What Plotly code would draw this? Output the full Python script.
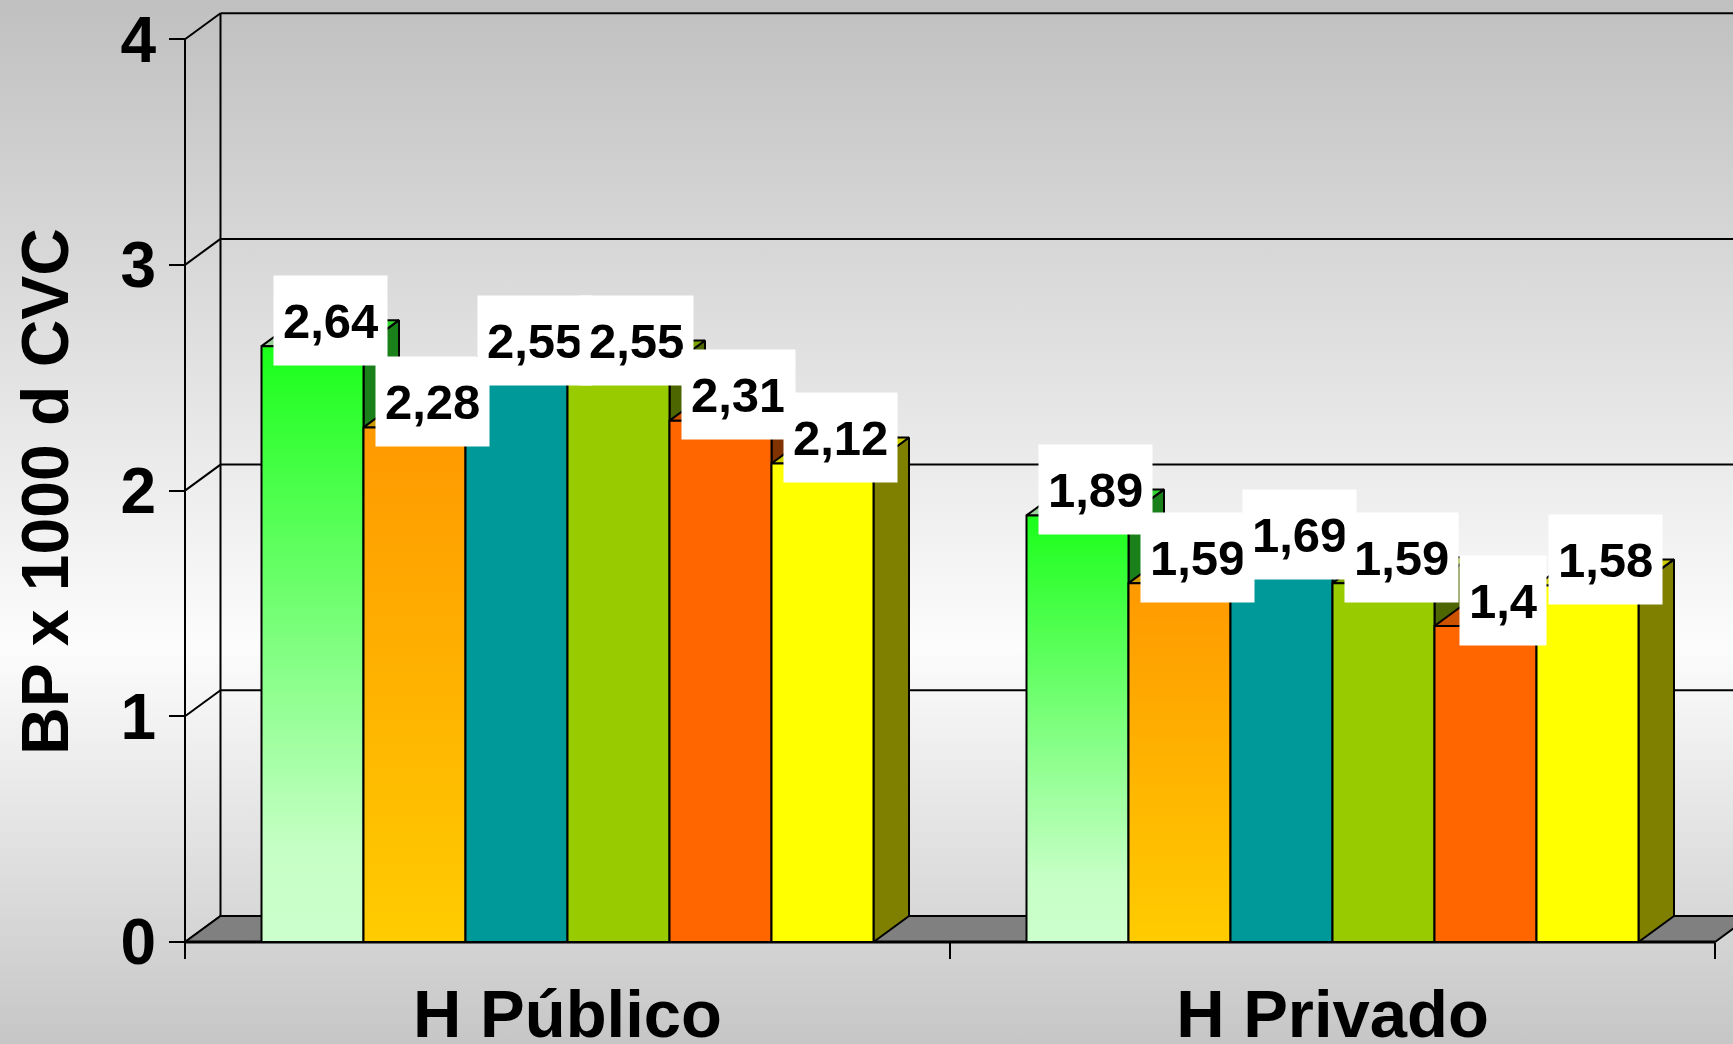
import base64
import plotly.graph_objects as go

# ---------------- data ----------------
categories = ["H Público", "H Privado"]
serie_1 = [2.64, 1.89]
serie_2 = [2.28, 1.59]
serie_3 = [2.55, 1.69]
serie_4 = [2.55, 1.59]
serie_5 = [2.31, 1.4]
serie_6 = [2.12, 1.58]
y_tick_values = [0, 1, 2, 3, 4]
y_tick_labels = ["0", "1", "2", "3", "4"]
y_title = "BP x 1000 d CVC"

series = [serie_1, serie_2, serie_3, serie_4, serie_5, serie_6]

# ---------------- styles ----------------
FONT = "Liberation Sans, Arial, sans-serif"
styles = [
    dict(front=[[0, "#ccffcc"], [0.15, "#c6ffc6"], [1, "#1aff1a"]],
         top=[[0, "#a3d1a3"], [1, "#2bd42b"]], side="#1a801a"),
    dict(front=[[0, "#ffcc00"], [1, "#ff9900"]], top="#cc9900", side="#996600"),
    dict(front="#009999", top="#007a7a", side="#006666"),
    dict(front="#99cc00", top="#7aa300", side="#4d6600"),
    dict(front="#ff6600", top="#cc5200", side="#803300"),
    dict(front="#ffff00", top="#cccc00", side="#808000"),
]

BAR_W = 1.0          # bar width (x units)
GAP = 0.75           # half of the 150% gap width
CAT_W = 7.5          # category width
PX_X = 102.0         # pixels per x unit
PX_Y = 225.7         # pixels per y unit
DX = 35.5 / PX_X     # 3D depth offset
DY = 26.0 / PX_Y

ML, MB = 180, 97
W, H = 1733, 1044
PW, PH = W - ML, H - MB
XMIN = -(185 - ML) / PX_X
XMAX = XMIN + PW / PX_X
YMIN = -5 / PX_Y
YMAX = YMIN + PH / PX_Y

fig = go.Figure()


def poly(xs, ys, fill=None, grad=None, lw=2, close=True):
    if close:
        xs = xs + [xs[0]]
        ys = ys + [ys[0]]
    kw = dict(x=xs, y=ys, mode="lines", line=dict(color="black", width=lw),
              hoverinfo="skip", showlegend=False)
    if fill is not None or grad is not None:
        kw["fill"] = "toself"
    if fill is not None:
        kw["fillcolor"] = fill
    if grad is not None:
        kw["fillgradient"] = grad
        kw["fillcolor"] = "rgba(0,0,0,0)"
    fig.add_trace(go.Scatter(**kw))


# back wall grid lines + left wall
for k in y_tick_values:
    poly([DX, XMAX + 1], [k + DY, k + DY], close=False)
    poly([0, DX], [k, k + DY], close=False)
poly([DX, DX], [DY, max(y_tick_values) + DY], close=False)
poly([0, 0], [0, max(y_tick_values)], close=False)

# floor
n_cat = len(categories)
poly([0, n_cat * CAT_W, n_cat * CAT_W + DX, DX], [0, 0, DY, DY], fill="#808080")
poly([0, n_cat * CAT_W], [0, 0], lw=3, close=False)

# bars
annotations = []
for g in range(n_cat):
    for i, vals in enumerate(series):
        v = vals[g]
        st = styles[i]
        x0 = g * CAT_W + GAP + i * BAR_W
        x1 = x0 + BAR_W
        # side face
        poly([x1, x1 + DX, x1 + DX, x1], [0, DY, v + DY, v], fill=st["side"])
        # top face
        if isinstance(st["top"], list):
            poly([x0, x1, x1 + DX, x0 + DX], [v, v, v + DY, v + DY],
                 grad=dict(type="horizontal", colorscale=st["top"]))
        else:
            poly([x0, x1, x1 + DX, x0 + DX], [v, v, v + DY, v + DY], fill=st["top"])
        # front face
        if isinstance(st["front"], list):
            poly([x0, x1, x1, x0], [0, 0, v, v],
                 grad=dict(type="vertical", colorscale=st["front"]))
        else:
            poly([x0, x1, x1, x0], [0, 0, v, v], fill=st["front"])
        annotations.append(dict(
            x=x0 + BAR_W / 2 + DX / 2, y=v + DY, xref="x", yref="y",
            text=("%g" % v).replace(".", ","), showarrow=False,
            font=dict(family=FONT, size=49, color="black", weight="bold"),
            bgcolor="white", borderpad=9, height=71, valign="middle",
            xanchor="center", yanchor="middle"))

# y axis title
annotations.append(dict(
    text=y_title, textangle=-90, showarrow=False,
    xref="paper", yref="paper",
    x=(45 - ML) / PW, y=(PH - 492) / PH, xanchor="center", yanchor="middle",
    font=dict(family=FONT, size=66, color="black", weight="bold")))

# background gradient
svg = ('<svg xmlns="http://www.w3.org/2000/svg" width="%d" height="%d">'
       '<defs><linearGradient id="g" x1="0" y1="0" x2="0" y2="1">'
       '<stop offset="0" stop-color="#c0c0c0"/>'
       '<stop offset="0.62" stop-color="#fcfcfc"/>'
       '<stop offset="1" stop-color="#c6c6c6"/>'
       '</linearGradient></defs>'
       '<rect width="100%%" height="100%%" fill="url(#g)"/></svg>') % (W, H)
src = "data:image/svg+xml;base64," + base64.b64encode(svg.encode()).decode()

fig.update_layout(
    width=W, height=H,
    margin=dict(l=ML, r=0, t=0, b=MB, pad=0, autoexpand=False),
    paper_bgcolor="white", plot_bgcolor="rgba(0,0,0,0)",
    showlegend=False,
    font=dict(family=FONT, color="black"),
    annotations=annotations,
    images=[dict(source=src, xref="paper", yref="paper",
                 x=-ML / PW, y=1, sizex=W / PW, sizey=H / PH,
                 xanchor="left", yanchor="top", sizing="stretch",
                 layer="below")],
    xaxis=dict(range=[XMIN, XMAX], anchor="free", automargin=False,
               position=(0 - YMIN) / (YMAX - YMIN),
               showgrid=False, zeroline=False, showline=False,
               tickmode="array",
               tickvals=[(g + 0.5) * CAT_W for g in range(n_cat)],
               ticktext=categories, ticks="", ticklabelstandoff=27,
               tickfont=dict(family=FONT, size=67, color="black", weight="bold"),
               minor=dict(tickmode="array",
                          tickvals=[g * CAT_W for g in range(n_cat + 1)],
                          ticks="outside", ticklen=16, tickwidth=2,
                          tickcolor="black", showgrid=False)),
    yaxis=dict(range=[YMIN, YMAX], anchor="free", automargin=False,
               position=(0 - XMIN) / (XMAX - XMIN),
               showgrid=False, zeroline=False, showline=False,
               tickmode="array", tickvals=y_tick_values, ticktext=y_tick_labels,
               ticks="outside", ticklen=16, tickwidth=2, tickcolor="black",
               tickfont=dict(family=FONT, size=64, color="black", weight="bold")),
)

fig.write_html("out.html",
               config={"displayModeBar": False},
               post_script="document.body.style.margin='0px';"
                           "document.body.style.overflow='hidden';")
